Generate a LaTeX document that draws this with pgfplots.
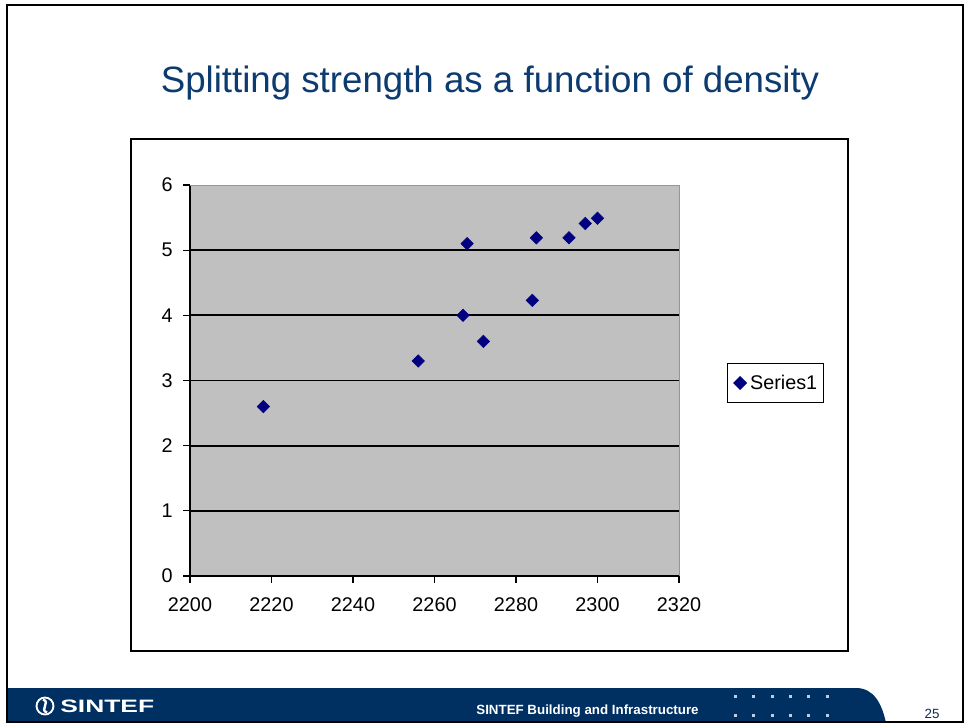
\documentclass[border=0pt]{standalone}
\usepackage{pgfplots}
\pgfplotsset{compat=1.18}
\usepackage{graphicx}
\usepackage{fontspec}
\setmainfont{Liberation Sans}
\definecolor{titleblue}{RGB}{12,59,112}
\definecolor{footblue}{RGB}{0,47,98}
\definecolor{plotgray}{RGB}{192,192,192}
\definecolor{navy}{RGB}{0,0,128}
\definecolor{bordergray}{RGB}{150,150,150}
\definecolor{dotblue}{RGB}{190,205,230}
\pgfplotstableread{
x y
2218 2.60
2256 3.30
2267 4.00
2268 5.10
2272 3.60
2284 4.23
2285 5.19
2293 5.19
2297 5.41
2300 5.49
}\splitdata
\begin{document}
\begin{tikzpicture}
\begin{scope}[x=0.75pt,y=-0.75pt]
\useasboundingbox (0,0) rectangle (966,723);
\fill[white] (0,0) rectangle (966,723);
% footer band
\fill[footblue] (7,688) -- (856,688) .. controls (874,688) and (882,704) .. (886,723) -- (7,723) -- cycle;
% slide border
\draw[black, line width=1.8pt] (7,5) -- (963,5) -- (963,722) -- (7,722) -- cycle;
% title
\node[anchor=base, inner sep=0pt, text=titleblue, font=\fontsize{27.5}{30}\selectfont] at (490,92.5) {Splitting strength as a function of density};
% chart frame
\draw[black, line width=1.1pt] (131,139) rectangle (848,651);
% footer text
\node[anchor=base, inner sep=0pt, text=white, font=\bfseries\fontsize{10}{12}\selectfont] at (587.5,714) {SINTEF Building and Infrastructure};
\node[anchor=base, inner sep=0pt, text={rgb,255:red,20;green,40;blue,80}, font=\fontsize{10}{12}\selectfont] at (932,718) {25};
% decorative dots
\foreach \dx in {735,753,772,790,808,827}{
  \foreach \dy in {696,715}{
    \fill[dotblue] (\dx-1.5,\dy-1.5) rectangle (\dx+1.5,\dy+1.5);
  }
}
% logo
\draw[white, line width=1.4pt] (45,706) circle (8.5);
\draw[white, line width=1.8pt] (43,699.5) .. controls (51,702) and (39,710) .. (47,712.5);
\node[anchor=west, inner sep=0pt, text=white] at (60,706.2) {\resizebox{70.5pt}{9.4pt}{\bfseries SINTEF}};
\end{scope}
\begin{axis}[
  at={(142.5pt,-432pt)}, anchor=south west,
  scale only axis, width=366.75pt, height=293.25pt,
  xmin=2200, xmax=2320, ymin=0, ymax=6,
  xtick={2200,2220,...,2320}, ytick={0,...,5},
  extra y ticks={6}, extra y tick style={grid=none},
  axis x line*=bottom, axis y line*=left,
  axis line style={black, line width=0.9pt},
  axis background/.style={fill=plotgray},
  ymajorgrids, major grid style={black, line width=1.3pt},
  tick align=outside, major tick length=5pt,
  tick style={black, line width=0.9pt},
  ticklabel style={font=\fontsize{14.85}{16}\selectfont},
  yticklabel style={xshift=-4.5pt},
  xticklabel style={yshift=-8pt},
  /pgf/number format/assume math mode=true,
  /pgf/number format/1000 sep={},
  legend style={at={(1.098,0.5448)}, anchor=north west, draw=black, line width=0.8pt,
    font=\fontsize{14.85}{16}\selectfont, inner xsep=4pt, inner ysep=7.5pt,
    nodes={inner sep=1pt}},
  legend image code/.code={\path[draw=none] (-5.5pt,-2pt) rectangle (6.5pt,2pt);
    \draw[mark repeat=2,mark phase=2,#1] plot coordinates {(-3pt,0pt) (0pt,0pt) (3pt,0pt)};},
  clip=false,
]
\addplot[only marks, mark=square*, mark size=3.3pt, mark options={rotate=45, fill=navy, draw=navy}] table[x=x,y=y] {\splitdata};
\addlegendentry{Series1\hspace{4.5pt}}
\draw[bordergray, line width=0.75pt] (rel axis cs:0,1) -- (rel axis cs:1,1) -- (rel axis cs:1,0);
\end{axis}
\end{tikzpicture}
\end{document}
